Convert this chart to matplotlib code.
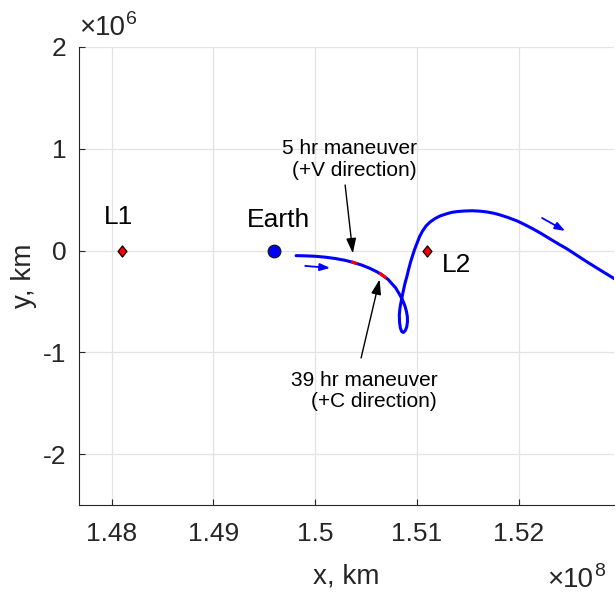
import numpy as np
import matplotlib.pyplot as plt
from matplotlib.path import Path

plt.rcParams['font.family'] = ['Liberation Sans', 'DejaVu Sans']

# trajectory in units of 1e6 km
traj_x = np.array([149.813, 149.902, 150.000, 150.098, 150.197, 150.295, 150.383, 150.462,
                   150.541, 150.610, 150.669, 150.718, 150.757, 150.792, 150.816, 150.836,
                   150.853, 150.870, 150.885, 150.898, 150.907, 150.908, 150.901, 150.887,
                   150.868, 150.851, 150.838, 150.830, 150.828, 150.833, 150.841, 150.853,
                   150.865, 150.882, 150.902, 150.919, 150.939, 150.959, 150.978, 151.003,
                   151.028, 151.057, 151.091, 151.131, 151.180, 151.229, 151.295, 151.347,
                   151.406, 151.475, 151.544, 151.622, 151.691, 151.760, 151.819, 151.898,
                   151.986, 152.065, 152.144, 152.222, 152.311, 152.389, 152.478, 152.576,
                   152.675, 152.802, 152.930, 153.048])
traj_y = np.array([-0.050, -0.052, -0.056, -0.065, -0.078, -0.096, -0.119, -0.144,
                   -0.176, -0.210, -0.247, -0.284, -0.328, -0.367, -0.407, -0.441,
                   -0.475, -0.510, -0.551, -0.598, -0.649, -0.701, -0.750, -0.785,
                   -0.805, -0.795, -0.760, -0.701, -0.633, -0.574, -0.525, -0.466,
                   -0.407, -0.328, -0.256, -0.186, -0.112, -0.048, 0.011, 0.075,
                   0.139, 0.193, 0.242, 0.281, 0.315, 0.340, 0.362, 0.376,
                   0.384, 0.389, 0.391, 0.387, 0.379, 0.366, 0.350, 0.324,
                   0.291, 0.253, 0.212, 0.168, 0.114, 0.067, 0.016, -0.048,
                   -0.112, -0.191, -0.269, -0.343])

# burn arcs (5 hr and 39 hr maneuvers)
burn1_x = [150.369, 150.398]
burn1_y = [-0.114, -0.125]
burn2_x = [150.644, 150.688]
burn2_y = [-0.228, -0.262]

# bodies / libration points
earth_x, earth_y = 149.6, 0.0
lpt_x = [148.1, 151.1]
lpt_y = [0.0, 0.0]
lpt_names = ['L1', 'L2']

# direction-of-motion arrows (tail, head)
dir_arrows = [((149.902, -0.151), (150.147, -0.171)),
              ((152.232, 0.320), (152.458, 0.193))]

xticks = [148, 149, 150, 151, 152]
xticklabels = ['1.48', '1.49', '1.5', '1.51', '1.52']
yticks = [-2, -1, 0, 1, 2]
yticklabels = ['-2', '-1', '0', '1', '2']

S = 1e6
dark = '#262626'

fig = plt.figure(figsize=(6.16, 5.93), dpi=100)
ax = fig.add_axes([79/616, 88/593, 535/616, 458/593])

ax.plot(traj_x*S, traj_y*S, color='b', lw=2.2, zorder=3,
        solid_joinstyle='round', solid_capstyle='round')
ax.plot(np.array(burn1_x)*S, np.array(burn1_y)*S, color='r', lw=2.2, zorder=4)
ax.plot(np.array(burn2_x)*S, np.array(burn2_y)*S, color='r', lw=2.2, zorder=4)

ax.plot(earth_x*S, earth_y*S, 'o', ms=9, mfc='b', mec='#1a1a1a', mew=1, zorder=5)
diamond = Path([(0, 1), (0.8, 0), (0, -1), (-0.8, 0), (0, 1)],
               [Path.MOVETO, Path.LINETO, Path.LINETO, Path.LINETO, Path.CLOSEPOLY])
ax.plot(np.array(lpt_x)*S, np.array(lpt_y)*S, ls='none', marker=diamond, ms=8,
        mfc='r', mec='k', mew=0.9, zorder=5)

for tail, head in dir_arrows:
    ax.annotate('', xy=(head[0]*S, head[1]*S), xytext=(tail[0]*S, tail[1]*S),
                arrowprops=dict(arrowstyle='-|>,head_length=0.6,head_width=0.22',
                                color='b', lw=1.3, shrinkA=0, shrinkB=0,
                                mutation_scale=10))

# maneuver callouts
ax.annotate('', xy=(150.371*S, -0.027*S), xytext=(150.295*S, 0.644*S),
            arrowprops=dict(arrowstyle='-|>,head_length=0.9,head_width=0.3',
                            color='k', lw=1, shrinkA=0, shrinkB=0, mutation_scale=10))
ax.annotate('', xy=(150.634*S, -0.284*S), xytext=(150.452*S, -1.055*S),
            arrowprops=dict(arrowstyle='-|>,head_length=0.9,head_width=0.3',
                            color='k', lw=1, shrinkA=0, shrinkB=0, mutation_scale=10))
ax.text(151.003*S, 0.895*S, '5 hr maneuver\n(+V direction)', ha='right', va='center',
        multialignment='right', fontsize=15, linespacing=1.15)
ax.text(151.200*S, -1.377*S, '39 hr maneuver\n(+C direction)', ha='right', va='center',
        multialignment='right', fontsize=15, linespacing=1.15)

ax.text(149.643*S, 0.301*S, 'Earth', ha='center', va='center', fontsize=19)
ax.text(148.063*S, 0.330*S, lpt_names[0], ha='center', va='center', fontsize=19)
ax.text(151.386*S, -0.142*S, lpt_names[1], ha='center', va='center', fontsize=19)

ax.set_xlim(147.678*S, 152.939*S)
ax.set_ylim(-2.5*S, 2*S)
ax.set_xticks([v*S for v in xticks])
ax.set_xticklabels(xticklabels)
ax.set_yticks([v*S for v in yticks])
ax.set_yticklabels(yticklabels)

ax.grid(True, color='#e3e3e3', lw=0.9)
ax.set_axisbelow(True)
for side in ['top', 'right']:
    ax.spines[side].set_visible(False)
for side in ['left', 'bottom']:
    ax.spines[side].set_color(dark)
    ax.spines[side].set_linewidth(0.8)
ax.tick_params(direction='in', length=4, width=0.8, colors=dark, labelsize=19)
ax.tick_params(axis='x', pad=12)
ax.tick_params(axis='y', pad=9)

ax.set_xlabel('x, km', fontsize=20, color=dark, labelpad=13)
ax.set_ylabel('y, km', fontsize=20, color=dark, labelpad=4)

# exponent labels
def exponent(x_split, base, x_sup, sup_base, power):
    fig.text(x_split/616, 1 - base/593, '×', fontsize=20, color=dark,
             va='baseline', ha='right')
    fig.text(x_split/616, 1 - base/593, '10', fontsize=20, color=dark,
             va='baseline', ha='left')
    fig.text(x_sup/616, 1 - sup_base/593, power, fontsize=14, color=dark,
             va='baseline', ha='left')

exponent(95, 35, 126, 24, '6')
exponent(563, 587, 594, 576, '8')

fig.savefig('out.png', dpi=100)
